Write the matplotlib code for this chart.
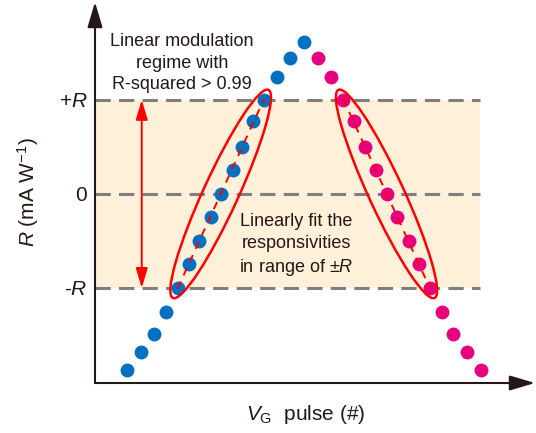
import numpy as np
import matplotlib
matplotlib.use("Agg")
from matplotlib import pyplot as plt
from matplotlib.patches import Ellipse
from matplotlib.transforms import IdentityTransform

plt.rcParams["font.family"] = ["Liberation Sans", "DejaVu Sans"]
plt.rcParams["mathtext.fontset"] = "custom"
plt.rcParams["mathtext.rm"] = "Liberation Sans"
plt.rcParams["mathtext.it"] = "Liberation Sans:italic"

# pulse position and responsivity (in units of R) for the rising / falling sweep
up_pulse = [2.9, 4.15, 5.35, 6.45, 7.5, 8.5, 9.45, 10.5, 11.45, 12.5, 13.35, 14.35, 15.35, 16.5, 17.7, 19.0]
up_resp = [-1.87, -1.68, -1.49, -1.25, -1.0, -0.75, -0.5, -0.25, 0.0, 0.25, 0.5, 0.77, 1.0, 1.24, 1.44, 1.62]
down_pulse = [20.25, 21.45, 22.55, 23.55, 24.55, 25.55, 26.55, 27.45, 28.5, 29.45, 30.45, 31.5, 32.55, 33.8, 35.1]
down_resp = [1.44, 1.24, 1.0, 0.77, 0.5, 0.25, 0.0, -0.25, -0.5, -0.75, -1.0, -1.25, -1.49, -1.68, -1.87]
up_fit = list(range(4, 13))
down_fit = list(range(2, 11))

level_ticks = [-1, 0, 1]
level_labels = ["-$R$", "0", "+$R$"]

ink = "#231815"
blue = "#0070C0"
pink = "#E4007F"

fig = plt.figure(figsize=(5.36, 4.33), dpi=100)
ax = fig.add_axes([95 / 536, 50 / 433, 440 / 536, 381 / 433])
ax.set_xlim(0, 40)
ax.set_ylim(-2.01, 2.04)
for s in ax.spines.values():
    s.set_visible(False)
ax.set_xticks([])
ax.set_yticks(level_ticks, level_labels, fontsize=15, color=ink)
ax.tick_params(axis="y", length=0, pad=5.5)

# shaded linear window and dashed guide levels
ax.fill_between([0, 35], -1, 1, color="#FEF0D9", lw=0, zorder=0)
ax.hlines(level_ticks, 0, 35, colors="#7F7F7F", lw=2.2, linestyles=(0, (5, 2.7)), zorder=1)

ax.scatter(up_pulse, up_resp, s=100, color=blue, lw=0, zorder=3)
ax.scatter(down_pulse, down_resp, s=100, color=pink, lw=0, zorder=3)


def fit_ring(xs, ys):
    xs = np.asarray(xs)
    ys = np.asarray(ys)
    k, b = np.polyfit(xs, ys, 1)
    ax.plot([xs[0], xs[-1]], [k * xs[0] + b, k * xs[-1] + b], color="red", lw=1.4,
            dashes=(4, 3.5), zorder=4)
    p0, p1 = ax.transData.transform([(xs[0], ys[0]), (xs[-1], ys[-1])])
    d = p1 - p0
    ring = Ellipse((p0 + p1) / 2, np.hypot(*d) + 22, 35,
                   angle=np.degrees(np.arctan2(d[1], d[0])),
                   transform=IdentityTransform(), fill=False, ec="red", lw=1.8, zorder=5)
    fig.add_artist(ring)


fit_ring([up_pulse[i] for i in up_fit], [up_resp[i] for i in up_fit])
fit_ring([down_pulse[i] for i in down_fit], [down_resp[i] for i in down_fit])

# +/-R range arrow
ax.annotate("", xy=(4.25, 1), xytext=(4.25, -1),
            arrowprops=dict(arrowstyle="<|-|>,head_length=12,head_width=3.6", mutation_scale=1,
                            color="red", lw=1.4, shrinkA=0, shrinkB=0))

# axes with arrow heads
for tip in [(1, 0), (0, 1)]:
    ax.annotate("", xy=tip, xytext=(0, 0), xycoords="axes fraction",
                arrowprops=dict(arrowstyle="-|>,head_length=15.5,head_width=4.6", mutation_scale=1,
                                color=ink, lw=1.5, shrinkA=0, shrinkB=0))

ax.text(7.9, 1.39, "Linear modulation\nregime with\nR-squared > 0.99", ha="center", va="center",
        fontsize=13, color=ink, linespacing=1.34)
ax.text(18.3, -0.55, "Linearly fit the\nresponsivities\nin range of ±$R$", ha="center", va="center",
        fontsize=13, color=ink, linespacing=1.34)

fig.text(28 / 536, 1 - 192 / 433, "$R$ (mA W$^{-1}$)", rotation=90, ha="center", va="center",
         fontsize=15, color=ink)
fig.text(306 / 536, 1 - 414 / 433, "$V_{\\mathrm{G}}$  pulse (#)", ha="center", va="center",
         fontsize=15, color=ink)

fig.savefig("out.png", dpi=100)
